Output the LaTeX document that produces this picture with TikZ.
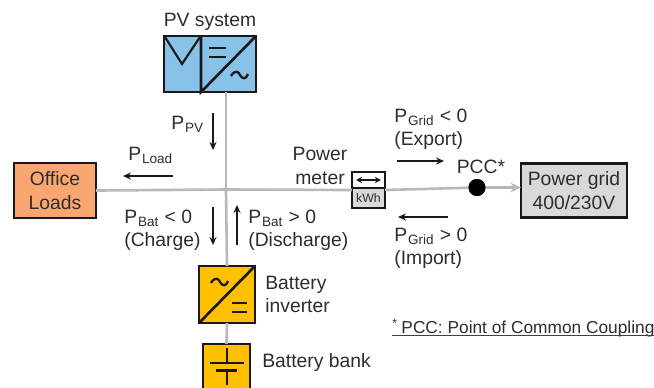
\documentclass[tikz,border=0pt]{standalone}
\usepackage{fontspec}
\setmainfont{Liberation Sans}
\usetikzlibrary{arrows.meta,positioning,calc}
\definecolor{pvblue}{RGB}{136,194,232}
\definecolor{loadorange}{RGB}{250,166,112}
\definecolor{batyellow}{RGB}{255,192,0}
\definecolor{gridgray}{RGB}{217,217,217}
\definecolor{busgray}{RGB}{185,185,185}
\definecolor{txtgray}{RGB}{45,45,45}
\newcommand{\psub}[1]{P\textsubscript{\kern0.5pt #1}}

\begin{document}
\begin{tikzpicture}[x=0.02cm,y=-0.02cm,
  blockbox/.style={draw=black!90, line width=1.5pt, outer sep=0pt, inner sep=0pt, align=center, text=txtgray, font=\fontsize{11}{13.6}\selectfont},
  symline/.style={black!90, line width=1.5pt},
  busline/.style={busgray, line width=1.5pt},
  flowarrow/.style={-{Stealth[length=4.5pt,width=4pt]}, black!90, line width=1.1pt},
  lbl/.style={text=txtgray, font=\fontsize{11}{13.2}\selectfont, align=left, inner sep=0pt}]
\clip (0,0) rectangle (654,387);
% Bus junction and blocks
\coordinate (hub) at (226,189.5);
\coordinate (pvout) at (226,92);
\node[blockbox, fill=pvblue, minimum width=1.84cm, minimum height=1.12cm] (pv) at (210,64) {};
\node[blockbox, fill=loadorange, minimum width=1.64cm, minimum height=1.10cm] (load) at (55,190.5) {Office\\Loads};
\node[blockbox, fill=batyellow, minimum width=1.12cm, minimum height=1.14cm] (inverter) at (227,294.5) {};
\node[blockbox, fill=batyellow, minimum width=0.94cm, minimum height=0.96cm] (bank) at (226.5,368) {};
\node[blockbox, fill=gridgray, minimum width=2.12cm, minimum height=1.08cm] (grid) at (574,190.5) {Power grid\\400/230V};
\node[blockbox, fill=gridgray, line width=1.2pt, minimum width=0.66cm, minimum height=0.72cm] (meter) at (368.5,190) {};
\node[circle, fill=black, minimum size=0.34cm, inner sep=0pt] (pcc) at (477,187.5) {};
% Bus lines
\draw[busline] (pvout) -- (hub);
\draw[busline] (hub) -- (inverter.north);
\draw[busline] (inverter.south) -- (bank.north);
\draw[busline] (load.east) -- (hub) -- (meter.west);
\draw[busline] (meter.east) -- (pcc);
\draw[busline, -{Stealth[length=6pt,width=5.5pt]}] (pcc) -- (pcc -| grid.west);
\node[circle, fill=black, minimum size=0.34cm, inner sep=0pt] at (pcc) {};
% PV symbol
\draw[symline] (201,36) -- (201,92) -- (256,36);
\draw[symline, line width=1.2pt] (165,37) -- (182,64) -- (200,37);
\draw[symline, line width=1.3pt] (209,48) -- (226,48) (209,57) -- (226,57);
\draw[symline, line width=1.3pt] (231,76) .. controls (235,69) and (239,72) .. (240,75) .. controls (242,79) and (246,80) .. (248,74);
% Inverter symbol
\draw[symline] (199,323) -- (255,266);
\draw[symline, line width=1.3pt] (211,283) .. controls (215,276) and (219,279) .. (220,282) .. controls (222,286) and (226,287) .. (228,281);
\draw[symline, line width=1.3pt] (232,303) -- (247,303) (232,312) -- (247,312);
% Battery symbol
\draw[symline] (227,348) -- (227,363) (210,363) -- (244,363);
\draw[symline, line width=2pt] (216,370.5) -- (237,370.5);
\draw[symline] (227,371) -- (227,385);
% Meter symbol
\fill[white] (353,173) rectangle (384,187);
\draw[black!90, line width=1.2pt] (352,188) -- (385,188);
\draw[{Stealth[length=3.5pt,width=3.5pt]}-{Stealth[length=3.5pt,width=3.5pt]}, black!90, line width=1pt] (356,180) -- (381,180);
\node[font=\fontsize{7}{8}\selectfont, text=txtgray, inner sep=0pt] (kwh) at (368.5,198) {kWh};
% Power flow arrows
\foreach \name/\xa/\ya/\xb/\yb in {ppv/213/113/213/150, pload/173/176/123/176, pcharge/213/207/213/245,
    pdis/237/245/237/205, pexp/397/161/444/161, pimp/448/217/398/217} {
  \coordinate (\name a) at (\xa,\ya);
  \coordinate (\name b) at (\xb,\yb);
  \draw[flowarrow] (\name a) -- (\name b);
}
% Labels
\node[lbl] (pvname) at (210,22) {PV system};
\node[lbl, anchor=west] (ppvname) at (171,124) {\psub{PV}};
\node[lbl, anchor=west] (ploadname) at (128,155) {\psub{Load}};
\node[lbl, anchor=west] (pchargename) at (124,230) {\psub{Bat} < 0\\(Charge)};
\node[lbl, anchor=west] (pdisname) at (248,230) {\psub{Bat} > 0\\(Discharge)};
\node[lbl, anchor=west] (pexpname) at (394,129.5) {\psub{Grid} < 0\\(Export)};
\node[lbl, anchor=west] (pimpname) at (394,248.5) {\psub{Grid} > 0\\(Import)};
\node[lbl, align=center] (metername) at (320,166) {Power\\meter};
\node[lbl] (pccname) at (481,167) {PCC*};
\node[lbl, anchor=west] (invname) at (265,294.5) {Battery\\inverter};
\node[lbl, anchor=west] (bankname) at (262,362) {Battery bank};
% Footnote
\node[lbl, anchor=west, font=\fontsize{9.85}{11}\selectfont] (note) at (392,328) {\textsuperscript{*}\kern2pt PCC: Point of Common Coupling};
\draw[black!75, line width=0.8pt] ($(note.south west)+(0,-2)$) -- ($(note.south east)+(0,-2)$);
\end{tikzpicture}
\end{document}
